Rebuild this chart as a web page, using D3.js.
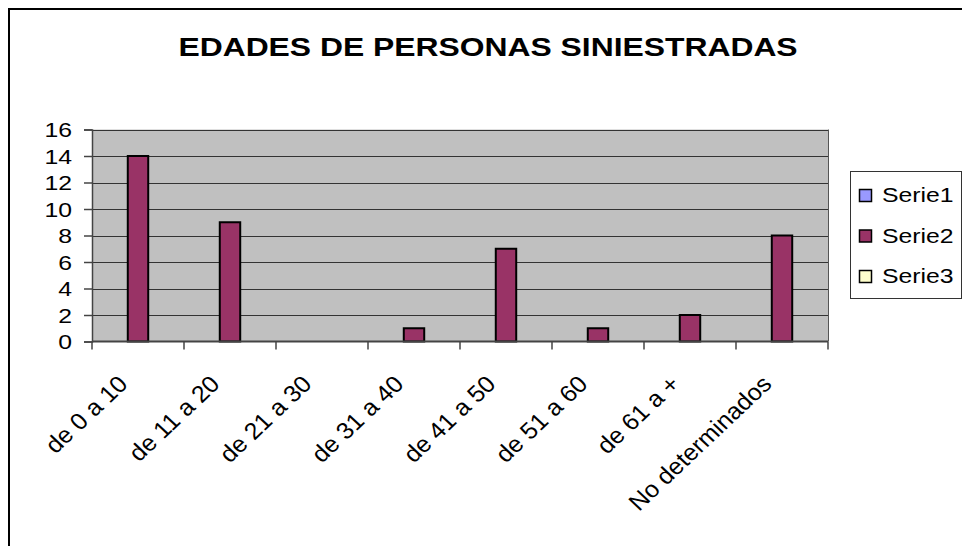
<!DOCTYPE html>
<html>
<head>
<meta charset="utf-8">
<script src="https://cdn.jsdelivr.net/npm/d3@7"></script>
<style>
  html, body { margin: 0; padding: 0; background: #fff; }
  svg { display: block; font-family: 'Liberation Sans', Arial, sans-serif; }
</style>
</head>
<body>
<div id="chart"></div>
<script>
const TITLE = 'EDADES DE PERSONAS SINIESTRADAS';
const CATEGORIES = [
  'de 0 a 10', 'de 11 a 20', 'de 21 a 30', 'de 31 a 40',
  'de 41 a 50', 'de 51 a 60', 'de 61 a +', 'No determinados'
];
const SERIES = ['Serie1', 'Serie2', 'Serie3'];
// Serie1 and Serie3 have no values in the sheet
const SERIE1 = [null, null, null, null, null, null, null, null];
const SERIE2 = [14, 9, 0, 1, 7, 1, 2, 8];
const SERIE3 = [null, null, null, null, null, null, null, null];
const Y_TICKS = [0, 2, 4, 6, 8, 10, 12, 14, 16];
const COLORS = ['#9999ff', '#993366', '#ffffcc'];

const width = 962;
const height = 546;
const plot = {left: 92, right: 828, top: 129.5, bottom: 341.5};
const fontSize = 21;
// the original text is rendered a little wide
const SX = 1.18;

const svg = d3.select('#chart')
  .append('svg')
    .attr('width', width)
    .attr('height', height);

// outer chart border (runs off the right/bottom edge)
svg.append('rect')
  .attr('x', 9)
  .attr('y', 9)
  .attr('width', width + 20)
  .attr('height', height + 20)
  .attr('fill', '#fff')
  .attr('stroke', '#000')
  .attr('stroke-width', 2);

svg.append('g')
    .attr('transform', `translate(488,56) scale(1.225,1)`)
  .append('text')
    .attr('text-anchor', 'middle')
    .attr('font-size', '26px')
    .attr('font-weight', 'bold')
    .text(TITLE);

const x = d3.scaleBand()
  .domain(CATEGORIES)
  .range([plot.left, plot.right]);

// 150% gap width -> group of 3 bars takes 3/4.5 of the band
const bw = x.bandwidth();
const barW = bw / 4.5;
const xs = d3.scaleBand()
  .domain(SERIES)
  .range([(bw - 3 * barW) / 2, (bw + 3 * barW) / 2]);

const y = d3.scaleLinear()
  .domain([0, 16])
  .range([plot.bottom, plot.top]);

svg.append('rect')
  .attr('x', plot.left)
  .attr('y', plot.top)
  .attr('width', plot.right - plot.left)
  .attr('height', plot.bottom - plot.top)
  .attr('fill', '#c0c0c0');

// gridlines
svg.append('g')
  .selectAll('line')
  .data(Y_TICKS.slice(1))
  .enter().append('line')
    .attr('x1', plot.left)
    .attr('x2', plot.right)
    .attr('y1', (d) => Math.round(y(d)) + 0.5)
    .attr('y2', (d) => Math.round(y(d)) + 0.5)
    .attr('stroke', '#333')
    .attr('stroke-width', 1);

svg.append('line')
  .attr('x1', plot.right + 0.5)
  .attr('x2', plot.right + 0.5)
  .attr('y1', plot.top)
  .attr('y2', plot.bottom)
  .attr('stroke', '#555')
  .attr('stroke-width', 1);

// bars
const seriesData = [SERIE1, SERIE2, SERIE3];
seriesData.forEach((values, si) => {
  const rows = values
    .map((v, i) => ({cat: CATEGORIES[i], value: v}))
    .filter((d) => d.value);
  svg.append('g')
    .selectAll('rect')
    .data(rows)
    .enter().append('rect')
      .attr('x', (d) => x(d.cat) + xs(SERIES[si]))
      .attr('y', (d) => y(d.value))
      .attr('width', xs.bandwidth())
      .attr('height', (d) => plot.bottom - y(d.value))
      .attr('fill', COLORS[si])
      .attr('stroke', '#000')
      .attr('stroke-width', 2);
});

// y axis
const yAxis = svg.append('g')
  .attr('transform', `translate(${plot.left},0)`)
  .call(d3.axisLeft(y).tickValues(Y_TICKS).tickSize(8).tickFormat(''));
yAxis.select('.domain').attr('stroke', '#444').attr('stroke-width', 1.5);
yAxis.selectAll('.tick line').attr('stroke', '#444').attr('stroke-width', 1.5);

svg.append('g')
  .selectAll('g')
  .data(Y_TICKS)
  .enter().append('g')
    .attr('transform', (d) => `translate(72,${y(d) + 7.5}) scale(${SX},1)`)
  .append('text')
    .attr('text-anchor', 'end')
    .attr('font-size', `${fontSize}px`)
    .text((d) => d);

// x axis: ticks between categories
const edges = CATEGORIES.map((c) => x(c)).concat([plot.right]);
svg.append('line')
  .attr('x1', plot.left)
  .attr('x2', plot.right)
  .attr('y1', plot.bottom)
  .attr('y2', plot.bottom)
  .attr('stroke', '#444')
  .attr('stroke-width', 2);
svg.append('g')
  .selectAll('line')
  .data(edges)
  .enter().append('line')
    .attr('x1', (d) => d)
    .attr('x2', (d) => d)
    .attr('y1', plot.bottom)
    .attr('y2', plot.bottom + 8)
    .attr('stroke', '#444')
    .attr('stroke-width', 1.5);

svg.append('g')
  .selectAll('text')
  .data(CATEGORIES)
  .enter().append('text')
    .attr('transform', (d) => `translate(${x(d) + bw / 2 - 9},${plot.bottom + 44}) scale(1.06,1) rotate(-45)`)
    .attr('text-anchor', 'end')
    .attr('font-size', '23.5px')
    .text((d) => d);

// legend
const legend = svg.append('g');
legend.append('rect')
  .attr('x', 850.5)
  .attr('y', 171.5)
  .attr('width', 111)
  .attr('height', 127)
  .attr('fill', '#fff')
  .attr('stroke', '#333')
  .attr('stroke-width', 1);
const items = legend.selectAll('g')
  .data(SERIES)
  .enter().append('g')
    .attr('transform', (d, i) => `translate(0,${i * 40.5})`);
items.append('rect')
  .attr('x', 859.5)
  .attr('y', 189.5)
  .attr('width', 12)
  .attr('height', 12)
  .attr('fill', (d, i) => COLORS[i])
  .attr('stroke', '#000')
  .attr('stroke-width', 1.5);
items.append('g')
    .attr('transform', `translate(882,202) scale(${SX},1)`)
  .append('text')
    .attr('font-size', `${fontSize}px`)
    .text((d) => d);
</script>
</body>
</html>
